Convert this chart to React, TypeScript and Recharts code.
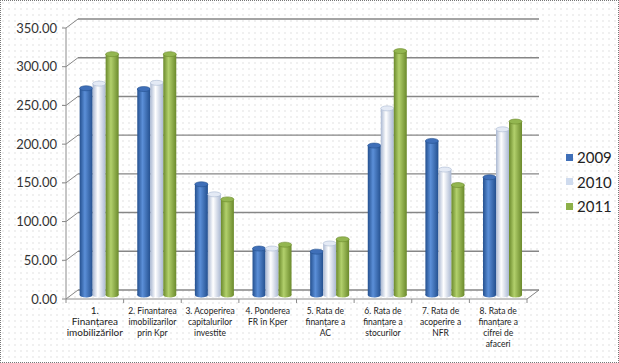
import React from 'react';
import { BarChart, Bar, XAxis, YAxis, CartesianGrid, Legend } from 'recharts';

// category labels (line breaks as in the original axis)
const categories = [
  '1.\nFinanțarea\nimobilizărilor',
  '2. Finantarea\nimobilizarilor\nprin Kpr',
  '3. Acoperirea\ncapitalurilor\ninvestite',
  '4. Ponderea\nFR în Kper',
  '5. Rata de\nfinanțare a\nAC',
  '6. Rata de\nfinanțare a\nstocurilor',
  '7. Rata de\nacoperire a\nNFR',
  '8. Rata de\nfinanțare a\ncifrei de\nafaceri',
];

const values2009 = [267, 266, 143, 60, 56, 193, 199, 152];
const values2010 = [273, 274, 130, 60, 66.5, 241, 162, 214];
const values2011 = [311, 311, 123.5, 65, 72, 315, 142, 224];

const yTicks = [0, 50, 100, 150, 200, 250, 300, 350];
const years = ['2009', '2010', '2011'];

const data = categories.map((name, i) => ({
  name,
  '2009': values2009[i],
  '2010': values2010[i],
  '2011': values2011[i],
}));

// look of each series: edge / centre of the cylinder, cap colour
const seriesStyle: Record<string, { edge: string; mid: string; cap: string; swatch: string }> = {
  '2009': { edge: '#24508f', mid: '#5b8fd8', cap: '#3f6fb8', swatch: '#3f6fb8' },
  '2010': { edge: '#aab8d2', mid: '#ffffff', cap: '#e4eaf5', swatch: '#cfdbee' },
  '2011': { edge: '#6b8a2c', mid: '#b2d06c', cap: '#93b650', swatch: '#8db048' },
};

// fake 3D depth
const DX = 12;
const DY = 9;
const TOP = 28;
const BOTTOM = 299;
const LEFT = 66;

const CylinderBar = (props: any) => {
  const { x, y, width, height, year } = props;
  if (!height || height <= 0) return null;
  const s = seriesStyle[year];
  const bx = x + 5;
  const top = y - 4;
  const rx = width / 2;
  const ry = 2.5;
  return (
    <g>
      <rect x={bx} y={top} width={width} height={height} fill={`url(#cyl${year})`} />
      <ellipse cx={bx + rx} cy={top + height} rx={rx} ry={ry} fill={`url(#cyl${year})`} />
      <ellipse cx={bx + rx} cy={top} rx={rx} ry={ry} fill={s.cap} stroke={s.edge} strokeWidth={0.6} />
    </g>
  );
};

const GridLine = (props: any) => {
  const { x1, y1, x2, y2 } = props;
  const isBottom = Math.abs(y1 - BOTTOM) < 1;
  return (
    <g key={props.key}>
      <line x1={x1 + DX} y1={y1 - DY} x2={x2 + DX} y2={y2 - DY} stroke="#868686" strokeWidth={1.4} />
      <line x1={x1} y1={y1} x2={x1 + DX} y2={y1 - DY} stroke="#868686" strokeWidth={1} />
      <line x1={x1 - 4} y1={y1} x2={x1} y2={y1} stroke="#868686" strokeWidth={1} />
      {isBottom && (
        <line x1={x2} y1={y2} x2={x2 + DX} y2={y2 - DY} stroke="#868686" strokeWidth={1} />
      )}
    </g>
  );
};

const YTick = (props: any) => {
  const { y, payload } = props;
  return (
    <text x={LEFT - 9} y={y} dy={4.5} textAnchor="end" fontSize={13} fill="#333" fontFamily="Lato, 'Open Sans', sans-serif">
      {Number(payload.value).toFixed(2)}
    </text>
  );
};

const XTick = (props: any) => {
  const { x, payload, index } = props;
  const lines = String(payload.value).split('\n');
  const band = (527 - LEFT) / categories.length;
  const size = index === 0 ? 10 : 8.5;
  return (
    <g>
      {index === 0 && <line x1={x - band / 2} y1={BOTTOM} x2={x - band / 2} y2={BOTTOM + 4} stroke="#8c8c8c" />}
      <line x1={x + band / 2} y1={BOTTOM} x2={x + band / 2} y2={BOTTOM + 4} stroke="#8c8c8c" />
      <text x={x} y={BOTTOM + 15} textAnchor="middle" fontSize={size} fill="#222" fontFamily="Lato, 'Open Sans', sans-serif">
        {lines.map((l, i) => (
          <tspan key={i} x={x} dy={i === 0 ? 0 : 11}>
            {l}
          </tspan>
        ))}
      </text>
    </g>
  );
};

const LegendContent = () => (
  <div style={{ fontFamily: "Lato, 'Open Sans', sans-serif", fontSize: 15, color: '#222' }}>
    {years.map((yr) => (
      <div key={yr} style={{ display: 'flex', alignItems: 'center', height: 24.5 }}>
        <span style={{ width: 7, height: 7, background: seriesStyle[yr].swatch, marginRight: 4, display: 'inline-block' }} />
        {yr}
      </div>
    ))}
  </div>
);

export default function App() {
  return (
    <div
      style={{
        position: 'absolute',
        left: 0,
        top: 0,
        width: 619,
        height: 363,
        backgroundColor: '#fff',
        backgroundImage: 'radial-gradient(circle, #cfcfcf 0.5px, transparent 0.8px)',
        backgroundSize: '6px 6px',
      }}
    >
      <BarChart
        width={619}
        height={363}
        data={data}
        margin={{ top: TOP, right: 619 - 527, bottom: 4, left: 0 }}
        barCategoryGap="15%"
        barGap={0}
      >
        <defs>
          {years.map((yr) => (
            <linearGradient key={yr} id={`cyl${yr}`} x1="0" y1="0" x2="1" y2="0">
              <stop offset="0%" stopColor={seriesStyle[yr].edge} />
              <stop offset="40%" stopColor={seriesStyle[yr].mid} />
              <stop offset="100%" stopColor={seriesStyle[yr].edge} />
            </linearGradient>
          ))}
        </defs>
        <CartesianGrid horizontal={GridLine} vertical={false} />
        <XAxis
          dataKey="name"
          height={60}
          interval={0}
          axisLine={{ stroke: '#8c8c8c' }}
          tickLine={false}
          tick={XTick}
        />
        <YAxis
          width={LEFT}
          domain={[0, 350]}
          ticks={yTicks}
          axisLine={{ stroke: '#8c8c8c' }}
          tickLine={false}
          tick={YTick}
        />
        <Legend
          layout="vertical"
          align="center"
          verticalAlign="middle"
          content={LegendContent}
          wrapperStyle={{ left: 566, top: 145, width: 60 }}
        />
        {years.map((yr) => (
          <Bar
            key={yr}
            dataKey={yr}
            isAnimationActive={false}
            shape={(p: any) => <CylinderBar {...p} year={yr} />}
          />
        ))}
      </BarChart>
      <div
        style={{
          position: 'absolute',
          inset: 0,
          border: '1px dotted #777',
          pointerEvents: 'none',
        }}
      />
    </div>
  );
}
